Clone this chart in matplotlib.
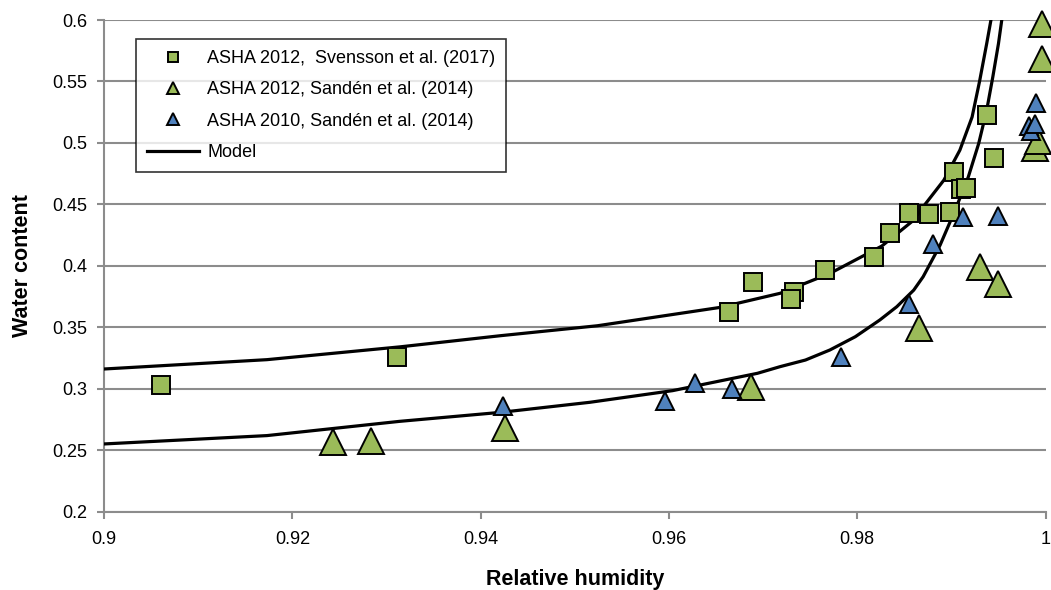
import numpy as np
import matplotlib
matplotlib.use("Agg")
import matplotlib.pyplot as plt
from matplotlib.lines import Line2D
from matplotlib.ticker import FormatStrFormatter

plt.rcParams["font.family"] = ["Liberation Sans", "DejaVu Sans"]

# ASHA 2012, Svensson et al. (2017) - squares
sq_rh = [0.9061, 0.9311, 0.9664, 0.9689, 0.9733, 0.9730, 0.9766, 0.9818,
         0.9835, 0.9855, 0.9876, 0.9899, 0.9903, 0.9910, 0.9916, 0.9938, 0.9945]
sq_w = [0.3033, 0.3255, 0.3626, 0.3870, 0.3783, 0.3729, 0.3965, 0.4068,
        0.4263, 0.4433, 0.4420, 0.4441, 0.4767, 0.4624, 0.4637, 0.5225, 0.4876]

# ASHA 2012, Sandén et al. (2014) - green triangles
gt_rh = [0.9243, 0.9284, 0.9426, 0.9687, 0.9866, 0.9930, 0.9949,
         0.9989, 0.9992, 0.9996, 0.9996]
gt_w = [0.2563, 0.2577, 0.2680, 0.3011, 0.3490, 0.3992, 0.3851,
        0.4962, 0.5016, 0.5680, 0.5965]

# ASHA 2010, Sandén et al. (2014) - blue triangles
bt_rh = [0.9424, 0.9596, 0.9628, 0.9667, 0.9783, 0.9855, 0.9881, 0.9912,
         0.9949, 0.9982, 0.9985, 0.9989, 0.9990]
bt_w = [0.2862, 0.2897, 0.3046, 0.2997, 0.3260, 0.3688, 0.4176, 0.4398,
        0.4407, 0.5138, 0.5098, 0.5152, 0.5328]

# model curves
m1_rh = [0.900, 0.9173, 0.9314, 0.9421, 0.9524, 0.9654, 0.9718, 0.9771,
         0.9826, 0.9860, 0.9870, 0.9892, 0.9909, 0.9922, 0.9930, 0.99375, 0.9942]
m1_w = [0.316, 0.3236, 0.334, 0.3431, 0.3512, 0.3661, 0.3776, 0.3938,
        0.416, 0.4372, 0.448, 0.4697, 0.4941, 0.5211, 0.5504, 0.5808, 0.600]

m2_rh = [0.900, 0.9173, 0.9314, 0.9421, 0.9516, 0.9604, 0.9694, 0.9718,
         0.9745, 0.9771, 0.9798, 0.9824, 0.9842, 0.9860, 0.9870, 0.9888,
         0.9904, 0.9918, 0.9929, 0.99375, 0.9944, 0.9950, 0.99535]
m2_w = [0.255, 0.2618, 0.2734, 0.2807, 0.2889, 0.2984, 0.3125, 0.3179,
        0.3233, 0.3315, 0.3423, 0.3559, 0.3667, 0.3802, 0.3911, 0.4168,
        0.4453, 0.4724, 0.4995, 0.5266, 0.5537, 0.5808, 0.600]

green = "#9BBB59"
blue = "#4F81BD"

fig = plt.figure(figsize=(10.51, 5.90), dpi=100)
ax = fig.add_axes([0.099, 0.133, 0.8958, 0.833])

ax.plot(m1_rh, m1_w, color="black", lw=2.3, zorder=3)
ax.plot(m2_rh, m2_w, color="black", lw=2.3, zorder=3)

ax.plot(sq_rh, sq_w, ls="none", marker="s", ms=13.5, mfc=green, mec="black",
        mew=1.4, clip_on=False, zorder=4)
ax.plot(gt_rh, gt_w, ls="none", marker="^", ms=19, mfc=green, mec="black",
        mew=1.4, clip_on=False, zorder=4)
ax.plot(bt_rh, bt_w, ls="none", marker="^", ms=13, mfc=blue, mec="black",
        mew=1.4, clip_on=False, zorder=5)

ax.set_xlim(0.9, 1.0)
ax.set_ylim(0.2, 0.6)
ax.set_xticks(np.arange(0.9, 1.0001, 0.02))
ax.set_yticks(np.arange(0.2, 0.6001, 0.05))
ax.xaxis.set_major_formatter(FormatStrFormatter("%g"))
ax.yaxis.set_major_formatter(FormatStrFormatter("%g"))

ax.grid(axis="y", color="#8c8c8c", lw=1.5)
ax.set_axisbelow(True)
for s in ["top", "right"]:
    ax.spines[s].set_visible(False)
for s in ["left", "bottom"]:
    ax.spines[s].set_color("#8c8c8c")
    ax.spines[s].set_linewidth(1.5)
ax.tick_params(axis="both", colors="#8c8c8c", labelcolor="black",
               labelsize=13, width=1.5, length=5)
ax.tick_params(axis="y", pad=7)
ax.tick_params(axis="x", pad=9)

ax.set_xlabel("Relative humidity", fontsize=15.5, fontweight="bold", labelpad=15)
ax.set_ylabel("Water content", fontsize=15.5, fontweight="bold", labelpad=14)

handles = [
    Line2D([], [], ls="none", marker="s", ms=7, mfc=green, mec="black", mew=1.4),
    Line2D([], [], ls="none", marker="^", ms=8, mfc=green, mec="black", mew=1.4),
    Line2D([], [], ls="none", marker="^", ms=8, mfc=blue, mec="black", mew=1.4),
    Line2D([], [], color="black", lw=2.3),
]
labels = ["ASHA 2012,  Svensson et al. (2017)",
          "ASHA 2012, Sandén et al. (2014)",
          "ASHA 2010, Sandén et al. (2014)",
          "Model"]
leg = fig.legend(handles, labels, loc="upper left",
                 bbox_to_anchor=(136 / 1051, 1 - 39 / 590), borderaxespad=0,
                 fontsize=13, frameon=True, fancybox=False, edgecolor="black",
                 handlelength=2.9, handletextpad=0.45, labelspacing=0.8,
                 borderpad=0.6)
leg.get_frame().set_linewidth(1.2)

fig.savefig("out.png", dpi=100)
